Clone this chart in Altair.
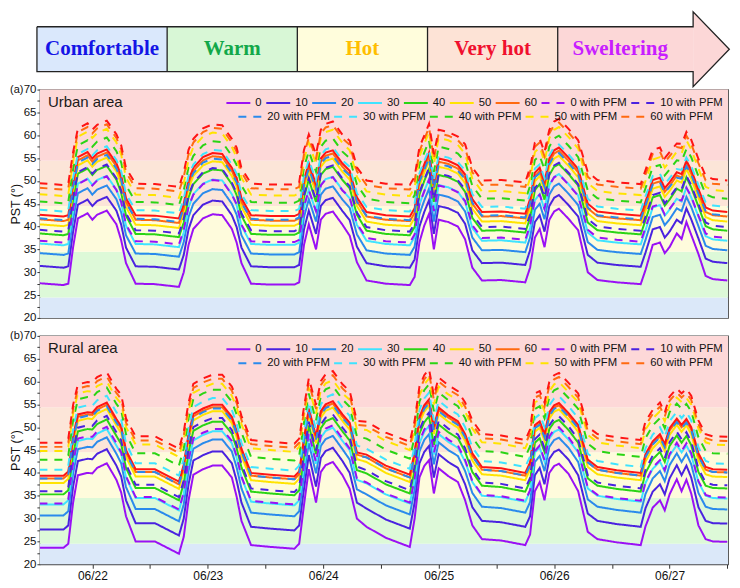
import altair as alt
import pandas as pd

# ---------------- data ----------------
HOURS = [-11, -6, -5, -4, -3, -1, 0, 1, 3, 5, 6, 7, 9,
         13, 18, 19, 20, 21, 23, 25, 27, 29, 30, 31, 33,
         37, 42, 43, 44, 45, 46.5, 47.5, 48.5, 50, 52, 53.5, 55, 57,
         61, 66, 67, 68, 69, 70, 71, 72, 74, 76, 77.5, 79, 81,
         85, 90, 91, 92, 93, 94, 95, 96, 97, 99, 101, 103, 105,
         109, 114, 115, 116.5, 118, 119, 120, 121.5, 122.5, 123.5, 124.5, 126, 127.5, 129, 132]

urban_0 = [27.6, 27.2, 27.5, 35.5, 41.8, 42.9, 41.5, 42.6, 43.5, 40.5, 37.0, 32.0, 27.5,
           27.4, 26.8, 30.0, 36.0, 39.5, 41.8, 42.7, 42.5, 39.5, 36.5, 32.0, 27.5,
           27.3, 27.3, 27.8, 36.0, 40.5, 35.0, 41.5, 42.8, 43.3, 40.4, 38.0, 32.2, 28.2,
           27.5, 27.2, 29.0, 36.6, 40.2, 42.8, 35.0, 41.5, 41.0, 40.0, 37.2, 31.0, 28.2,
           28.3, 27.8, 31.0, 37.6, 39.5, 35.5, 41.5, 43.3, 43.9, 41.7, 39.2, 30.0, 28.3,
           27.8, 27.4, 30.5, 36.0, 36.5, 34.2, 35.5, 38.5, 37.3, 41.0, 38.2, 34.0, 29.2, 28.5, 28.2]
urban_10 = [31.4, 31.0, 31.3, 38.9, 44.8, 45.9, 44.5, 45.6, 46.5, 43.5, 40.4, 35.4, 31.3,
            31.2, 30.6, 33.8, 39.4, 42.5, 44.8, 45.7, 45.5, 42.5, 39.9, 35.4, 31.3,
            31.1, 31.1, 31.6, 39.4, 43.5, 38.4, 44.5, 45.8, 46.3, 43.4, 41.4, 35.6, 32.0,
            31.3, 31.0, 32.8, 40.0, 43.2, 45.8, 38.4, 44.5, 44.0, 43.0, 40.6, 34.8, 32.0,
            32.1, 31.6, 34.8, 41.0, 42.5, 38.9, 44.5, 46.3, 46.9, 44.7, 42.2, 33.8, 32.1,
            31.6, 31.2, 34.3, 39.4, 39.9, 37.6, 38.9, 41.5, 40.7, 44.0, 41.6, 37.4, 33.0, 32.3, 32.0]
urban_20 = [34.2, 33.8, 34.1, 41.6, 47.3, 48.4, 47.0, 48.1, 49.0, 46.0, 43.1, 38.1, 34.1,
            34.0, 33.4, 36.6, 42.1, 45.0, 47.3, 48.2, 48.0, 45.0, 42.6, 38.1, 34.1,
            33.9, 33.9, 34.4, 42.1, 46.0, 41.1, 47.0, 48.3, 48.8, 45.9, 44.1, 38.3, 34.8,
            34.1, 33.8, 35.6, 42.7, 45.7, 48.3, 41.1, 47.0, 46.5, 45.5, 43.3, 37.6, 34.8,
            34.9, 34.4, 37.6, 43.7, 45.0, 41.6, 47.0, 48.8, 49.4, 47.2, 44.7, 36.6, 34.9,
            34.4, 34.0, 37.1, 42.1, 42.6, 40.3, 41.6, 44.0, 43.4, 46.5, 44.3, 40.1, 35.8, 35.1, 34.8]
urban_30 = [36.3, 35.9, 36.2, 43.7, 49.4, 50.5, 49.1, 50.2, 51.1, 48.1, 45.2, 40.2, 36.2,
            36.1, 35.5, 38.7, 44.2, 47.1, 49.4, 50.3, 50.1, 47.1, 44.7, 40.2, 36.2,
            36.0, 36.0, 36.5, 44.2, 48.1, 43.2, 49.1, 50.4, 50.9, 48.0, 46.2, 40.4, 36.9,
            36.2, 35.9, 37.7, 44.8, 47.8, 50.4, 43.2, 49.1, 48.6, 47.6, 45.4, 39.7, 36.9,
            37.0, 36.5, 39.7, 45.8, 47.1, 43.7, 49.1, 50.9, 51.5, 49.3, 46.8, 38.7, 37.0,
            36.5, 36.1, 39.2, 44.2, 44.7, 42.4, 43.7, 46.1, 45.5, 48.6, 46.4, 42.2, 37.9, 37.2, 36.9]
urban_40 = [38.5, 38.1, 38.4, 45.9, 51.6, 52.7, 51.3, 52.4, 53.3, 50.3, 47.4, 42.4, 38.4,
            38.3, 37.7, 40.9, 46.4, 49.3, 51.6, 52.5, 52.3, 49.3, 46.9, 42.4, 38.4,
            38.2, 38.2, 38.7, 46.4, 50.3, 45.4, 51.3, 52.6, 53.1, 50.2, 48.4, 42.6, 39.1,
            38.4, 38.1, 39.9, 47.0, 50.0, 52.6, 45.4, 51.3, 50.8, 49.8, 47.6, 41.9, 39.1,
            39.2, 38.7, 41.9, 48.0, 49.3, 45.9, 51.3, 53.1, 53.7, 51.5, 49.0, 40.9, 39.2,
            38.7, 38.3, 41.4, 46.4, 46.9, 44.6, 45.9, 48.3, 47.7, 50.8, 48.6, 44.4, 40.1, 39.4, 39.1]
urban_50 = [40.5, 40.1, 40.4, 47.8, 53.4, 54.5, 53.1, 54.2, 55.1, 52.1, 49.3, 44.3, 40.4,
            40.3, 39.7, 42.9, 48.3, 51.1, 53.4, 54.3, 54.1, 51.1, 48.8, 44.3, 40.4,
            40.2, 40.2, 40.7, 48.3, 52.1, 47.3, 53.1, 54.4, 54.9, 52.0, 50.3, 44.5, 41.1,
            40.4, 40.1, 41.9, 48.9, 51.8, 54.4, 47.3, 53.1, 52.6, 51.6, 49.5, 43.9, 41.1,
            41.2, 40.7, 43.9, 49.9, 51.1, 47.8, 53.1, 54.9, 55.5, 53.3, 50.8, 42.9, 41.2,
            40.7, 40.3, 43.4, 48.3, 48.8, 46.5, 47.8, 50.1, 49.6, 52.6, 50.5, 46.3, 42.1, 41.4, 41.1]
urban_60 = [41.6, 41.2, 41.5, 48.9, 54.5, 55.6, 54.2, 55.3, 56.2, 53.2, 50.4, 45.4, 41.5,
            41.4, 40.8, 44.0, 49.4, 52.2, 54.5, 55.4, 55.2, 52.2, 49.9, 45.4, 41.5,
            41.3, 41.3, 41.8, 49.4, 53.2, 48.4, 54.2, 55.5, 56.0, 53.1, 51.4, 45.6, 42.2,
            41.5, 41.2, 43.0, 50.0, 52.9, 55.5, 48.4, 54.2, 53.7, 52.7, 50.6, 45.0, 42.2,
            42.3, 41.8, 45.0, 51.0, 52.2, 48.9, 54.2, 56.0, 56.6, 54.4, 51.9, 44.0, 42.3,
            41.8, 41.4, 44.5, 49.4, 49.9, 47.6, 48.9, 51.2, 50.7, 53.7, 51.6, 47.4, 43.2, 42.5, 42.2]
urban_top = [42.6, 42.2, 42.5, 49.7, 55.2, 56.3, 54.9, 56.0, 56.9, 53.9, 51.2, 46.2, 42.5,
             42.4, 41.8, 45.0, 50.2, 52.9, 55.2, 56.1, 55.9, 52.9, 50.7, 46.2, 42.5,
             42.3, 42.3, 42.8, 50.2, 53.9, 49.2, 54.9, 56.2, 56.7, 53.8, 52.2, 46.4, 43.2,
             42.5, 42.2, 44.0, 50.8, 53.6, 56.2, 49.2, 54.9, 54.4, 53.4, 51.4, 46.0, 43.2,
             43.3, 42.8, 46.0, 51.8, 52.9, 49.7, 54.9, 56.7, 57.3, 55.1, 52.6, 45.0, 43.3,
             42.8, 42.4, 45.5, 50.2, 50.7, 48.4, 49.7, 51.9, 51.5, 54.4, 52.4, 48.2, 44.2, 43.5, 43.2]
urban_0_pfm = [36.9, 36.5, 36.8, 43.9, 49.3, 50.4, 49.0, 50.1, 51.0, 48.0, 45.4, 40.4, 36.8,
               36.7, 36.1, 39.3, 44.4, 47.0, 49.3, 50.2, 50.0, 47.0, 44.9, 40.4, 36.8,
               36.6, 36.6, 37.1, 44.4, 48.0, 43.4, 49.0, 50.3, 50.8, 47.9, 46.4, 40.6, 37.5,
               36.8, 36.5, 38.3, 45.0, 47.7, 50.3, 43.4, 49.0, 48.5, 47.5, 45.6, 40.3, 37.5,
               37.6, 37.1, 40.3, 46.0, 47.0, 43.9, 49.0, 50.8, 51.4, 49.2, 46.7, 39.3, 37.6,
               37.1, 36.7, 39.8, 44.4, 44.9, 42.6, 43.9, 46.0, 45.7, 48.5, 46.6, 42.4, 38.5, 37.8, 37.5]
urban_10_pfm = [39.3, 38.9, 39.2, 46.4, 51.9, 53.0, 51.6, 52.7, 53.6, 50.6, 47.9, 42.9, 39.2,
                39.1, 38.5, 41.7, 46.9, 49.6, 51.9, 52.8, 52.6, 49.6, 47.4, 42.9, 39.2,
                39.0, 39.0, 39.5, 46.9, 50.6, 45.9, 51.6, 52.9, 53.4, 50.5, 48.9, 43.1, 39.9,
                39.2, 38.9, 40.7, 47.5, 50.3, 52.9, 45.9, 51.6, 51.1, 50.1, 48.1, 42.7, 39.9,
                40.0, 39.5, 42.7, 48.5, 49.6, 46.4, 51.6, 53.4, 54.0, 51.8, 49.3, 41.7, 40.0,
                39.5, 39.1, 42.2, 46.9, 47.4, 45.1, 46.4, 48.6, 48.2, 51.1, 49.1, 44.9, 40.9, 40.2, 39.9]
urban_20_pfm = [41.8, 41.4, 41.7, 48.7, 54.0, 55.1, 53.7, 54.8, 55.7, 52.7, 50.2, 45.2, 41.7,
                41.6, 41.0, 44.2, 49.2, 51.7, 54.0, 54.9, 54.7, 51.7, 49.7, 45.2, 41.7,
                41.5, 41.5, 42.0, 49.2, 52.7, 48.2, 53.7, 55.0, 55.5, 52.6, 51.2, 45.4, 42.4,
                41.7, 41.4, 43.2, 49.8, 52.4, 55.0, 48.2, 53.7, 53.2, 52.2, 50.4, 45.2, 42.4,
                42.5, 42.0, 45.2, 50.8, 51.7, 48.7, 53.7, 55.5, 56.1, 53.9, 51.4, 44.2, 42.5,
                42.0, 41.6, 44.7, 49.2, 49.7, 47.4, 48.7, 50.7, 50.5, 53.2, 51.4, 47.2, 43.4, 42.7, 42.4]
urban_30_pfm = [43.7, 43.3, 43.6, 50.6, 55.9, 57.0, 55.6, 56.7, 57.6, 54.6, 52.1, 47.1, 43.6,
                43.5, 42.9, 46.1, 51.1, 53.6, 55.9, 56.8, 56.6, 53.6, 51.6, 47.1, 43.6,
                43.4, 43.4, 43.9, 51.1, 54.6, 50.1, 55.6, 56.9, 57.4, 54.5, 53.1, 47.3, 44.3,
                43.6, 43.3, 45.1, 51.7, 54.3, 56.9, 50.1, 55.6, 55.1, 54.1, 52.3, 47.1, 44.3,
                44.4, 43.9, 47.1, 52.7, 53.6, 50.6, 55.6, 57.4, 58.0, 55.8, 53.3, 46.1, 44.4,
                43.9, 43.5, 46.6, 51.1, 51.6, 49.3, 50.6, 52.6, 52.4, 55.1, 53.3, 49.1, 45.3, 44.6, 44.3]
urban_40_pfm = [45.5, 45.1, 45.4, 52.5, 57.8, 58.9, 57.5, 58.6, 59.5, 56.5, 54.0, 49.0, 45.4,
                45.3, 44.7, 47.9, 53.0, 55.5, 57.8, 58.7, 58.5, 55.5, 53.5, 49.0, 45.4,
                45.2, 45.2, 45.7, 53.0, 56.5, 52.0, 57.5, 58.8, 59.3, 56.4, 55.0, 49.2, 46.1,
                45.4, 45.1, 46.9, 53.6, 56.2, 58.8, 52.0, 57.5, 57.0, 56.0, 54.2, 48.9, 46.1,
                46.2, 45.7, 48.9, 54.6, 55.5, 52.5, 57.5, 59.3, 59.9, 57.7, 55.2, 47.9, 46.2,
                45.7, 45.3, 48.4, 53.0, 53.5, 51.2, 52.5, 54.5, 54.3, 57.0, 55.2, 51.0, 47.1, 46.4, 46.1]
urban_50_pfm = [47.1, 46.7, 47.0, 54.2, 59.7, 60.8, 59.4, 60.5, 61.4, 58.4, 55.7, 50.7, 47.0,
                46.9, 46.3, 49.5, 54.7, 57.4, 59.7, 60.6, 60.4, 57.4, 55.2, 50.7, 47.0,
                46.8, 46.8, 47.3, 54.7, 58.4, 53.7, 59.4, 60.7, 61.2, 58.3, 56.7, 50.9, 47.7,
                47.0, 46.7, 48.5, 55.3, 58.1, 60.7, 53.7, 59.4, 58.9, 57.9, 55.9, 50.5, 47.7,
                47.8, 47.3, 50.5, 56.3, 57.4, 54.2, 59.4, 61.2, 61.8, 59.6, 57.1, 49.5, 47.8,
                47.3, 46.9, 50.0, 54.7, 55.2, 52.9, 54.2, 56.4, 56.0, 58.9, 56.9, 52.7, 48.7, 48.0, 47.7]
urban_60_pfm = [48.5, 48.1, 48.4, 55.4, 60.7, 61.8, 60.4, 61.5, 62.4, 59.4, 56.9, 51.9, 48.4,
                48.3, 47.7, 50.9, 55.9, 58.4, 60.7, 61.6, 61.4, 58.4, 56.4, 51.9, 48.4,
                48.2, 48.2, 48.7, 55.9, 59.4, 54.9, 60.4, 61.7, 62.2, 59.3, 57.9, 52.1, 49.1,
                48.4, 48.1, 49.9, 56.5, 59.1, 61.7, 54.9, 60.4, 59.9, 58.9, 57.1, 51.9, 49.1,
                49.2, 48.7, 51.9, 57.5, 58.4, 55.4, 60.4, 62.2, 62.8, 60.6, 58.1, 50.9, 49.2,
                48.7, 48.3, 51.4, 55.9, 56.4, 54.1, 55.4, 57.4, 57.2, 59.9, 58.1, 53.9, 50.1, 49.4, 49.1]
urban_top_pfm = [49.5, 49.1, 49.4, 56.3, 61.5, 62.6, 61.2, 62.3, 63.2, 60.2, 57.8, 52.8, 49.4,
                 49.3, 48.7, 51.9, 56.8, 59.2, 61.5, 62.4, 62.2, 59.2, 57.3, 52.8, 49.4,
                 49.2, 49.2, 49.7, 56.8, 60.2, 55.8, 61.2, 62.5, 63.0, 60.1, 58.8, 53.0, 50.1,
                 49.4, 49.1, 50.9, 57.4, 59.9, 62.5, 55.8, 61.2, 60.7, 59.7, 58.0, 52.9, 50.1,
                 50.2, 49.7, 52.9, 58.4, 59.2, 56.3, 61.2, 63.0, 63.6, 61.4, 58.9, 51.9, 50.2,
                 49.7, 49.3, 52.4, 56.8, 57.3, 55.0, 56.3, 58.2, 58.1, 60.7, 59.0, 54.8, 51.1, 50.4, 50.1]

rural_0 = [23.6, 23.6, 24.5, 33.5, 39.5, 40.0, 39.9, 41.1, 42.1, 38.5, 35.7, 30.5, 25.0,
           25.0, 22.3, 26.0, 34.0, 39.6, 40.8, 41.6, 41.6, 39.0, 34.8, 29.5, 24.2,
           23.8, 23.4, 24.5, 33.0, 40.8, 33.5, 40.2, 41.7, 42.4, 39.5, 36.5, 30.0, 28.2,
           25.8, 23.8, 30.0, 39.0, 41.5, 42.8, 35.5, 41.0, 39.3, 38.0, 34.0, 28.5, 25.5,
           25.2, 24.2, 26.5, 36.0, 38.0, 34.0, 40.0, 41.5, 42.0, 39.8, 36.0, 27.1, 25.5,
           24.8, 24.2, 28.3, 32.4, 34.0, 31.8, 35.3, 38.6, 36.0, 38.5, 35.5, 28.5, 25.5, 25.0, 24.9]
rural_10 = [27.6, 27.6, 28.5, 37.0, 42.6, 43.1, 43.0, 44.2, 45.2, 41.6, 39.2, 34.0, 29.0,
            29.0, 26.3, 30.0, 37.5, 42.7, 43.9, 44.7, 44.7, 42.1, 38.3, 33.5, 28.2,
            27.8, 27.4, 28.5, 36.5, 43.9, 37.0, 43.3, 44.8, 45.5, 42.6, 40.0, 33.5, 32.2,
            29.8, 27.8, 33.5, 42.1, 44.6, 45.9, 39.0, 44.1, 42.4, 41.1, 37.5, 32.5, 29.5,
            29.2, 28.2, 30.5, 39.5, 41.1, 37.5, 43.1, 44.6, 45.1, 42.9, 39.5, 31.1, 29.5,
            28.8, 28.2, 32.3, 35.9, 37.5, 35.3, 38.8, 41.7, 39.5, 41.6, 39.0, 32.5, 29.5, 29.0, 28.9]
rural_20 = [30.7, 30.7, 31.6, 39.9, 45.2, 45.7, 45.6, 46.8, 47.8, 44.2, 42.1, 36.9, 32.1,
            32.1, 29.4, 33.1, 40.4, 45.3, 46.5, 47.3, 47.3, 44.7, 41.2, 36.6, 31.3,
            30.9, 30.5, 31.6, 39.4, 46.5, 39.9, 45.9, 47.4, 48.1, 45.2, 42.9, 36.4, 35.3,
            32.9, 30.9, 36.4, 44.7, 47.2, 48.5, 41.9, 46.7, 45.0, 43.7, 40.4, 35.6, 32.6,
            32.3, 31.3, 33.6, 42.4, 43.7, 40.4, 45.7, 47.2, 47.7, 45.5, 42.4, 34.2, 32.6,
            31.9, 31.3, 35.4, 38.8, 40.4, 38.2, 41.7, 44.3, 42.4, 44.2, 41.9, 35.6, 32.6, 32.1, 32.0]
rural_30 = [33.1, 33.1, 34.0, 42.0, 47.0, 47.5, 47.4, 48.6, 49.6, 46.0, 44.2, 39.0, 34.5,
            34.5, 31.8, 35.5, 42.5, 47.1, 48.3, 49.1, 49.1, 46.5, 43.3, 39.0, 33.7,
            33.3, 32.9, 34.0, 41.5, 48.3, 42.0, 47.7, 49.2, 49.9, 47.0, 45.0, 38.5, 37.7,
            35.3, 33.3, 38.5, 46.5, 49.0, 50.3, 44.0, 48.5, 46.8, 45.5, 42.5, 38.0, 35.0,
            34.7, 33.7, 36.0, 44.5, 45.5, 42.5, 47.5, 49.0, 49.5, 47.3, 44.5, 36.6, 35.0,
            34.3, 33.7, 37.8, 40.9, 42.5, 40.3, 43.8, 46.1, 44.5, 46.0, 44.0, 38.0, 35.0, 34.5, 34.4]
rural_40 = [35.3, 35.3, 36.2, 44.1, 49.1, 49.6, 49.5, 50.7, 51.7, 48.1, 46.3, 41.1, 36.7,
            36.7, 34.0, 37.7, 44.6, 49.2, 50.4, 51.2, 51.2, 48.6, 45.4, 41.2, 35.9,
            35.5, 35.1, 36.2, 43.6, 50.4, 44.1, 49.8, 51.3, 52.0, 49.1, 47.1, 40.6, 39.9,
            37.5, 35.5, 40.6, 48.6, 51.1, 52.4, 46.1, 50.6, 48.9, 47.6, 44.6, 40.2, 37.2,
            36.9, 35.9, 38.2, 46.6, 47.6, 44.6, 49.6, 51.1, 51.6, 49.4, 46.6, 38.8, 37.2,
            36.5, 35.9, 40.0, 43.0, 44.6, 42.4, 45.9, 48.2, 46.6, 48.1, 46.1, 40.2, 37.2, 36.7, 36.6]
rural_50 = [37.8, 37.8, 38.7, 46.5, 51.4, 51.9, 51.8, 53.0, 54.0, 50.4, 48.7, 43.5, 39.2,
            39.2, 36.5, 40.2, 47.0, 51.5, 52.7, 53.5, 53.5, 50.9, 47.8, 43.7, 38.4,
            38.0, 37.6, 38.7, 46.0, 52.7, 46.5, 52.1, 53.6, 54.3, 51.4, 49.5, 43.0, 42.4,
            40.0, 38.0, 43.0, 50.9, 53.4, 54.7, 48.5, 52.9, 51.2, 49.9, 47.0, 42.7, 39.7,
            39.4, 38.4, 40.7, 49.0, 49.9, 47.0, 51.9, 53.4, 53.9, 51.7, 49.0, 41.3, 39.7,
            39.0, 38.4, 42.5, 45.4, 47.0, 44.8, 48.3, 50.5, 49.0, 50.4, 48.5, 42.7, 39.7, 39.2, 39.1]
rural_60 = [38.8, 38.8, 39.7, 47.5, 52.3, 52.8, 52.7, 53.9, 54.9, 51.3, 49.7, 44.5, 40.2,
            40.2, 37.5, 41.2, 48.0, 52.4, 53.6, 54.4, 54.4, 51.8, 48.8, 44.7, 39.4,
            39.0, 38.6, 39.7, 47.0, 53.6, 47.5, 53.0, 54.5, 55.2, 52.3, 50.5, 44.0, 43.4,
            41.0, 39.0, 44.0, 51.8, 54.3, 55.6, 49.5, 53.8, 52.1, 50.8, 48.0, 43.7, 40.7,
            40.4, 39.4, 41.7, 50.0, 50.8, 48.0, 52.8, 54.3, 54.8, 52.6, 50.0, 42.3, 40.7,
            40.0, 39.4, 43.5, 46.4, 48.0, 45.8, 49.3, 51.4, 50.0, 51.3, 49.5, 43.7, 40.7, 40.2, 40.1]
rural_top = [39.4, 39.4, 40.3, 48.0, 52.8, 53.3, 53.2, 54.4, 55.4, 51.8, 50.2, 45.0, 40.8,
             40.8, 38.1, 41.8, 48.5, 52.9, 54.1, 54.9, 54.9, 52.3, 49.3, 45.3, 40.0,
             39.6, 39.2, 40.3, 47.5, 54.1, 48.0, 53.5, 55.0, 55.7, 52.8, 51.0, 44.5, 44.0,
             41.6, 39.6, 44.5, 52.3, 54.8, 56.1, 50.0, 54.3, 52.6, 51.3, 48.5, 44.3, 41.3,
             41.0, 40.0, 42.3, 50.5, 51.3, 48.5, 53.3, 54.8, 55.3, 53.1, 50.5, 42.9, 41.3,
             40.6, 40.0, 44.1, 46.9, 48.5, 46.3, 49.8, 51.9, 50.5, 51.8, 50.0, 44.3, 41.3, 40.8, 40.7]
rural_0_pfm = [33.3, 33.3, 34.2, 42.3, 47.5, 48.0, 47.9, 49.1, 50.1, 46.5, 44.5, 39.3, 34.7,
               34.7, 32.0, 35.7, 42.8, 47.6, 48.8, 49.6, 49.6, 47.0, 43.6, 39.2, 33.9,
               33.5, 33.1, 34.2, 41.8, 48.8, 42.3, 48.2, 49.7, 50.4, 47.5, 45.3, 38.8, 37.9,
               35.5, 33.5, 38.8, 47.0, 49.5, 50.8, 44.3, 49.0, 47.3, 46.0, 42.8, 38.2, 35.2,
               34.9, 33.9, 36.2, 44.8, 46.0, 42.8, 48.0, 49.5, 50.0, 47.8, 44.8, 36.8, 35.2,
               34.5, 33.9, 38.0, 41.2, 42.8, 40.6, 44.1, 46.6, 44.8, 46.5, 44.3, 38.2, 35.2, 34.7, 34.6]
rural_10_pfm = [36.0, 36.0, 36.9, 44.9, 49.9, 50.4, 50.3, 51.5, 52.5, 48.9, 47.1, 41.9, 37.4,
                37.4, 34.7, 38.4, 45.4, 50.0, 51.2, 52.0, 52.0, 49.4, 46.2, 41.9, 36.6,
                36.2, 35.8, 36.9, 44.4, 51.2, 44.9, 50.6, 52.1, 52.8, 49.9, 47.9, 41.4, 40.6,
                38.2, 36.2, 41.4, 49.4, 51.9, 53.2, 46.9, 51.4, 49.7, 48.4, 45.4, 40.9, 37.9,
                37.6, 36.6, 38.9, 47.4, 48.4, 45.4, 50.4, 51.9, 52.4, 50.2, 47.4, 39.5, 37.9,
                37.2, 36.6, 40.7, 43.8, 45.4, 43.2, 46.7, 49.0, 47.4, 48.9, 46.9, 40.9, 37.9, 37.4, 37.3]
rural_20_pfm = [38.8, 38.8, 39.7, 47.3, 52.0, 52.5, 52.4, 53.6, 54.6, 51.0, 49.5, 44.3, 40.2,
                40.2, 37.5, 41.2, 47.8, 52.1, 53.3, 54.1, 54.1, 51.5, 48.6, 44.7, 39.4,
                39.0, 38.6, 39.7, 46.8, 53.3, 47.3, 52.7, 54.2, 54.9, 52.0, 50.3, 43.8, 43.4,
                41.0, 39.0, 43.8, 51.5, 54.0, 55.3, 49.3, 53.5, 51.8, 50.5, 47.8, 43.7, 40.7,
                40.4, 39.4, 41.7, 49.8, 50.5, 47.8, 52.5, 54.0, 54.5, 52.3, 49.8, 42.3, 40.7,
                40.0, 39.4, 43.5, 46.2, 47.8, 45.6, 49.1, 51.1, 49.8, 51.0, 49.3, 43.7, 40.7, 40.2, 40.1]
rural_30_pfm = [40.7, 40.7, 41.6, 49.5, 54.3, 54.8, 54.7, 55.9, 56.9, 53.3, 51.7, 46.5, 42.1,
                42.1, 39.4, 43.1, 50.0, 54.4, 55.6, 56.4, 56.4, 53.8, 50.8, 46.6, 41.3,
                40.9, 40.5, 41.6, 49.0, 55.6, 49.5, 55.0, 56.5, 57.2, 54.3, 52.5, 46.0, 45.3,
                42.9, 40.9, 46.0, 53.8, 56.3, 57.6, 51.5, 55.8, 54.1, 52.8, 50.0, 45.6, 42.6,
                42.3, 41.3, 43.6, 52.0, 52.8, 50.0, 54.8, 56.3, 56.8, 54.6, 52.0, 44.2, 42.6,
                41.9, 41.3, 45.4, 48.4, 50.0, 47.8, 51.3, 53.4, 52.0, 53.3, 51.5, 45.6, 42.6, 42.1, 42.0]
rural_40_pfm = [42.9, 42.9, 43.8, 51.5, 56.1, 56.6, 56.5, 57.7, 58.7, 55.1, 53.7, 48.5, 44.3,
                44.3, 41.6, 45.3, 52.0, 56.2, 57.4, 58.2, 58.2, 55.6, 52.8, 48.8, 43.5,
                43.1, 42.7, 43.8, 51.0, 57.4, 51.5, 56.8, 58.3, 59.0, 56.1, 54.5, 48.0, 47.5,
                45.1, 43.1, 48.0, 55.6, 58.1, 59.4, 53.5, 57.6, 55.9, 54.6, 52.0, 47.8, 44.8,
                44.5, 43.5, 45.8, 54.0, 54.6, 52.0, 56.6, 58.1, 58.6, 56.4, 54.0, 46.4, 44.8,
                44.1, 43.5, 47.6, 50.4, 52.0, 49.8, 53.3, 55.2, 54.0, 55.1, 53.5, 47.8, 44.8, 44.3, 44.2]
rural_50_pfm = [44.8, 44.8, 45.7, 53.0, 57.4, 57.9, 57.8, 59.0, 60.0, 56.4, 55.2, 50.0, 46.2,
                46.2, 43.5, 47.2, 53.5, 57.5, 58.7, 59.5, 59.5, 56.9, 54.3, 50.7, 45.4,
                45.0, 44.6, 45.7, 52.5, 58.7, 53.0, 58.1, 59.6, 60.3, 57.4, 56.0, 49.5, 49.4,
                47.0, 45.0, 49.5, 56.9, 59.4, 60.7, 55.0, 58.9, 57.2, 55.9, 53.5, 49.7, 46.7,
                46.4, 45.4, 47.7, 55.5, 55.9, 53.5, 57.9, 59.4, 59.9, 57.7, 55.5, 48.3, 46.7,
                46.0, 45.4, 49.5, 51.9, 53.5, 51.3, 54.8, 56.5, 55.5, 56.4, 55.0, 49.7, 46.7, 46.2, 46.1]
rural_60_pfm = [45.7, 45.7, 46.6, 54.0, 58.5, 59.0, 58.9, 60.1, 61.1, 57.5, 56.2, 51.0, 47.1,
                47.1, 44.4, 48.1, 54.5, 58.6, 59.8, 60.6, 60.6, 58.0, 55.3, 51.6, 46.3,
                45.9, 45.5, 46.6, 53.5, 59.8, 54.0, 59.2, 60.7, 61.4, 58.5, 57.0, 50.5, 50.3,
                47.9, 45.9, 50.5, 58.0, 60.5, 61.8, 56.0, 60.0, 58.3, 57.0, 54.5, 50.6, 47.6,
                47.3, 46.3, 48.6, 56.5, 57.0, 54.5, 59.0, 60.5, 61.0, 58.8, 56.5, 49.2, 47.6,
                46.9, 46.3, 50.4, 52.9, 54.5, 52.3, 55.8, 57.6, 56.5, 57.5, 56.0, 50.6, 47.6, 47.1, 47.0]
rural_top_pfm = [46.6, 46.6, 47.5, 54.9, 59.4, 59.9, 59.8, 61.0, 62.0, 58.4, 57.1, 51.9, 48.0,
                 48.0, 45.3, 49.0, 55.4, 59.5, 60.7, 61.5, 61.5, 58.9, 56.2, 52.5, 47.2,
                 46.8, 46.4, 47.5, 54.4, 60.7, 54.9, 60.1, 61.6, 62.3, 59.4, 57.9, 51.4, 51.2,
                 48.8, 46.8, 51.4, 58.9, 61.4, 62.7, 56.9, 60.9, 59.2, 57.9, 55.4, 51.5, 48.5,
                 48.2, 47.2, 49.5, 57.4, 57.9, 55.4, 59.9, 61.4, 61.9, 59.7, 57.4, 50.1, 48.5,
                 47.8, 47.2, 51.3, 53.8, 55.4, 53.2, 56.7, 58.5, 57.4, 58.4, 56.9, 51.5, 48.5, 48.0, 47.9]

SERIES = ["0", "10", "20", "30", "40", "50", "60",
          "0 with PFM", "10 with PFM", "20 with PFM", "30 with PFM",
          "40 with PFM", "50 with PFM", "60 with PFM"]
LINE_COLORS = ["#9A10F5", "#4A22E0", "#2A8AEC", "#3FE3FF", "#2AD414", "#FFE300", "#FF6A10"]
TOP_COLOR = "#FF1414"
DAY_LABELS = ["06/22", "06/23", "06/24", "06/25", "06/26", "06/27"]

ZONES = ["Comfortable", "Warm", "Hot", "Very hot", "Sweltering"]
ZONE_LO = [20, 24.5, 34.5, 44.5, 54.4]
ZONE_HI = [24.5, 34.5, 44.5, 54.4, 70]
ZONE_FILLS = ["#DBE8F9", "#DDF9D8", "#FEFBDC", "#FCE5D8", "#FDD8D8"]
BANNER_FILLS = ["#DAE8FC", "#D8F7D6", "#FFFDDC", "#FDE3D6", "#FCD7D7"]
BANNER_TEXT = ["#1414E6", "#12A84A", "#FFBE00", "#F0102E", "#C81EFF"]

# banner geometry (box units); banner y runs 0 (bottom of arrow) .. 1 (top of arrow)
BOX_LEFT = [0, 1, 2, 3, 4]
BOX_RIGHT = [1, 2, 3, 4, 5.04]
BOX_TEXT_X = [0.5, 1.5, 2.5, 3.5, 4.48]
BOX_BOTTOM, BOX_TOP = 0.2, 0.8
HEAD_X = [5.04, 5.318]
HEAD_TOP = [1.0, 0.5]
HEAD_BOTTOM = [0.0, 0.5]
OUTLINE_X = [0, 5.04, 5.04, 5.318, 5.04, 5.04, 0, 0]
OUTLINE_Y = [0.8, 0.8, 1.0, 0.5, 0.0, 0.2, 0.2, 0.8]

PANEL_W, PANEL_H = 690, 229
BANNER_H = 60
FONT = "Liberation Sans"
SOLID, DASHED = [1, 0], [8, 7]


def long_frame(names, arrays):
    rows = []
    for name, vals in zip(names, arrays):
        for t, v in zip(HOURS, vals):
            rows.append({"t": t, "v": v, "s": name})
    return pd.DataFrame(rows)


def make_legend(lx, ly):
    return alt.Legend(orient="none", legendX=lx, legendY=ly, direction="horizontal",
                      title=None, symbolType="stroke", symbolSize=576, symbolStrokeWidth=2,
                      labelFont=FONT, labelFontSize=11.3, labelColor="#111", labelOffset=4,
                      columnPadding=0, padding=0, labelLimit=0)


def panel(solid, dashed, top, top_pfm, letter, area, show_x):
    xscale = alt.Scale(domain=[-10.9, 132.15], nice=False, zero=False)
    yscale = alt.Scale(domain=[20, 70], nice=False, zero=False)
    label_list = "[" + ",".join("'%s'" % d for d in DAY_LABELS) + "]"
    if show_x:
        xaxis = alt.Axis(values=list(range(0, 133, 12)),
                         labelExpr="datum.value % 24 == 0 ? " + label_list + "[datum.value / 24] : ''",
                         title=None, grid=False, domain=False, tickSize=4, tickColor="#333",
                         labelFont=FONT, labelFontSize=12, labelColor="#111", labelPadding=2)
    else:
        xaxis = None
    yaxis = alt.Axis(values=[20 + 2.5 * i for i in range(21)],
                     labelExpr="datum.value % 5 == 0 ? datum.label : ''",
                     title="PST (°)", titleFont=FONT, titleFontSize=12.5, titleFontWeight="normal",
                     titleColor="#111", titlePadding=1,
                     grid=False, domain=False, tickSize=3, tickColor="#333",
                     labelFont=FONT, labelFontSize=11.5, labelColor="#111", labelPadding=1)

    row1 = SERIES[:9]
    row2 = SERIES[9:]
    c1 = LINE_COLORS + LINE_COLORS[:2]
    c2 = LINE_COLORS[2:]

    zones = pd.DataFrame({"zone": ZONES, "lo": ZONE_LO, "hi": ZONE_HI})
    bands = alt.Chart(zones).mark_rect().encode(
        x=alt.value(0), x2=alt.value(PANEL_W),
        y=alt.Y("lo:Q", scale=yscale, axis=yaxis), y2="hi:Q",
        fill=alt.Fill("zone:N", scale=alt.Scale(domain=ZONES, range=ZONE_FILLS), legend=None))

    df1 = long_frame(row1, solid + dashed[:2])
    df2 = long_frame(row2, dashed[2:])
    top_df = pd.DataFrame({"t": HOURS, "v": top})
    topp_df = pd.DataFrame({"t": HOURS, "v": top_pfm})

    x = alt.X("t:Q", scale=xscale, axis=xaxis)
    y = alt.Y("v:Q", scale=yscale, axis=yaxis)
    leg1 = make_legend(186, 0)
    leg2 = make_legend(198, 14)
    lines1 = alt.Chart(df1).mark_line(strokeWidth=2, clip=True).encode(
        x=x, y=y,
        color=alt.Color("s:N", scale=alt.Scale(domain=row1, range=c1), legend=leg1),
        strokeDash=alt.StrokeDash("s:N", scale=alt.Scale(domain=row1,
                                  range=[SOLID] * 7 + [DASHED] * 2), legend=leg1))
    lines2 = alt.Chart(df2).mark_line(strokeWidth=2, clip=True).encode(
        x=x, y=y,
        color=alt.Color("s:N", scale=alt.Scale(domain=row2, range=c2), legend=leg2),
        strokeDash=alt.StrokeDash("s:N", scale=alt.Scale(domain=row2,
                                  range=[DASHED] * 5), legend=leg2))
    top_l = alt.Chart(top_df).mark_line(strokeWidth=2, clip=True, color=TOP_COLOR).encode(x=x, y=y)
    topp_l = alt.Chart(topp_df).mark_line(strokeWidth=2, clip=True, color=TOP_COLOR,
                                          strokeDash=DASHED).encode(x=x, y=y)

    one = pd.DataFrame({"k": [0]})
    tag = alt.Chart(one).mark_text(align="left", baseline="middle", font=FONT, fontSize=11,
                                   color="#111").encode(
        x=alt.value(-30), y=alt.value(0), text=alt.value(letter))
    name = alt.Chart(one).mark_text(align="left", baseline="middle", font=FONT, fontSize=15,
                                    color="#1a1a1a").encode(
        x=alt.value(8), y=alt.value(12), text=alt.value(area))

    return alt.layer(bands, lines1, top_l, lines2, topp_l, tag, name).resolve_scale(
        color="independent", strokeDash="independent").resolve_legend(
        color="independent", strokeDash="independent").properties(
        width=PANEL_W, height=PANEL_H,
        view=alt.ViewBackground(stroke="#4a4a4a", strokeWidth=1.2))


# ---------------- banner ----------------
bx = alt.Scale(domain=[0.0228, 5.308], nice=False, zero=False)
by = alt.Scale(domain=[0.2, 1], nice=False, zero=False)   # arrow bottom hangs into the gap
boxes = pd.DataFrame({"zone": ZONES, "x0": BOX_LEFT, "x1": BOX_RIGHT, "tx": BOX_TEXT_X,
                      "b": [BOX_BOTTOM] * 5, "tp": [BOX_TOP] * 5,
                      "ty": [(BOX_BOTTOM + BOX_TOP) / 2] * 5})
box_fill = alt.Chart(boxes).mark_rect().encode(
    x=alt.X("x0:Q", scale=bx, axis=None), x2="x1:Q",
    y=alt.Y("b:Q", scale=by, axis=None), y2="tp:Q",
    fill=alt.Fill("zone:N", scale=alt.Scale(domain=ZONES, range=BANNER_FILLS), legend=None))
head = alt.Chart(pd.DataFrame({"x": HEAD_X, "y": HEAD_TOP, "y2": HEAD_BOTTOM})).mark_area(
    color=BANNER_FILLS[4]).encode(
    x=alt.X("x:Q", scale=bx, axis=None), y=alt.Y("y:Q", scale=by, axis=None), y2="y2:Q")
outline = alt.Chart(pd.DataFrame({"x": OUTLINE_X, "y": OUTLINE_Y,
                                  "i": list(range(len(OUTLINE_X)))})).mark_line(
    color="#222", strokeWidth=1.3).encode(
    x=alt.X("x:Q", scale=bx, axis=None), y=alt.Y("y:Q", scale=by, axis=None), order="i:Q")
dividers = alt.Chart(pd.DataFrame({"x": BOX_LEFT[1:], "b": [BOX_BOTTOM] * 4,
                                   "tp": [BOX_TOP] * 4})).mark_rule(
    color="#222", strokeWidth=1.3).encode(
    x=alt.X("x:Q", scale=bx, axis=None), y=alt.Y("b:Q", scale=by, axis=None), y2="tp:Q")
words = alt.Chart(boxes).mark_text(font="Liberation Serif", fontWeight="bold",
                                   fontSize=21, baseline="middle").encode(
    x=alt.X("tx:Q", scale=bx, axis=None), y=alt.Y("ty:Q", scale=by, axis=None),
    text="zone:N",
    color=alt.Color("zone:N", scale=alt.Scale(domain=ZONES, range=BANNER_TEXT), legend=None))
banner = alt.layer(box_fill, head, dividers, outline, words).properties(
    width=PANEL_W, height=BANNER_H, view=alt.ViewBackground(strokeWidth=0))

pa = panel([urban_0, urban_10, urban_20, urban_30, urban_40, urban_50, urban_60],
           [urban_0_pfm, urban_10_pfm, urban_20_pfm, urban_30_pfm, urban_40_pfm,
            urban_50_pfm, urban_60_pfm],
           urban_top, urban_top_pfm, "(a)", "Urban area", False)
pb = panel([rural_0, rural_10, rural_20, rural_30, rural_40, rural_50, rural_60],
           [rural_0_pfm, rural_10_pfm, rural_20_pfm, rural_30_pfm, rural_40_pfm,
            rural_50_pfm, rural_60_pfm],
           rural_top, rural_top_pfm, "(b)", "Rural area", True)

chart = alt.vconcat(
    banner, pa, pb, spacing=18, bounds="flush", padding=0,
).resolve_scale(
    color="independent", strokeDash="independent", fill="independent",
    x="independent", y="independent"
).resolve_legend(
    color="independent", strokeDash="independent"
).configure_view(strokeWidth=0)

chart.save("out.html", embed_options={"renderer": "svg", "actions": False})
